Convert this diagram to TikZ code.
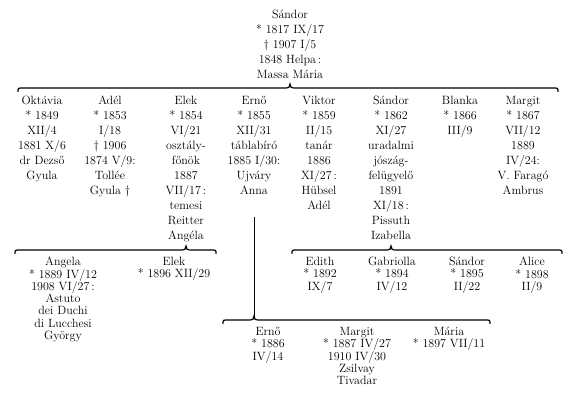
\documentclass[tikz,border=0pt]{standalone}
\usepackage{tikz}
\usetikzlibrary{calc}

\tikzset{
  person/.style={align=center, inner sep=0pt, anchor=north,
    font=\fontsize{12}{15}\selectfont, execute at begin node=\strut},
  kid/.style={person, font=\fontsize{12}{12.3}\selectfont},
  kin/.style={line width=1.2pt, line cap=round}
}

% brace from #2 to #3, tip under parent node #1
\newcommand{\kinbrace}[3]{%
  \coordinate (#1-tip) at (#1 |- #2);
  \draw[kin] ([yshift=-3.5pt]#2) .. controls (#2) .. ([xshift=5pt]#2)
    -- ([xshift=-5pt]#1-tip) .. controls ([xshift=-1pt]#1-tip) and ([yshift=1pt]#1-tip) .. ([yshift=4pt]#1-tip)
    .. controls ([yshift=1pt]#1-tip) and ([xshift=1pt]#1-tip) .. ([xshift=5pt]#1-tip)
    -- ([xshift=-5pt]#3) .. controls (#3) .. ([yshift=-3.5pt]#3);}

\begin{document}
\begin{tikzpicture}[x=1pt, y=-1pt]
  \useasboundingbox (0,0) rectangle (581,410);

  \node[person] (sandor) at (290,10) {Sándor\\* 1817 IX/17\\† 1907 I/5\\1848 Helpa\,:\\Massa Mária};

  \node[person] (oktavia) at (42,96) {Oktávia\\* 1849\\XII/4\\1881 X/6\\dr Dezső\\Gyula};
  \node[person] (adel) at (110,96) {Adél\\* 1853\\I/18\\† 1906\\1874 V/9:\\Tollée\\Gyula †};
  \node[person] (elek) at (186,96) {Elek\\* 1854\\VI/21\\osztály-\\főnök\\1887\\VII/17\,:\\temesi\\Reitter\\Angéla};
  \node[person] (erno) at (254,96) {Ernő\\* 1855\\XII/31\\táblabíró\\1885 I/30:\\Ujváry\\Anna};
  \node[person] (viktor) at (319,96) {Viktor\\* 1859\\II/15\\tanár\\1886\\XI/27\,:\\Hübsel\\Adél};
  \node[person] (sandorjr) at (391,96) {Sándor\\* 1862\\XI/27\\uradalmi\\jószág-\\felügyelő\\1891\\XI/18\,:\\Pissuth\\Izabella};
  \node[person] (blanka) at (460,96) {Blanka\\* 1866\\III/9};
  \node[person] (margit) at (523,96) {Margit\\* 1867\\VII/12\\1889\\IV/24:\\V. Faragó\\Ambrus};

  \node[kid] (angela) at (63,257) {Angela\\* 1889 IV/12\\1908 VI/27\,:\\Astuto\\dei Duchi\\di Lucchesi\\György};
  \node[kid] (elekjr) at (174,257) {Elek\\* 1896 XII/29};

  \node[kid] (edith) at (320,257) {Edith\\* 1892\\IX/7};
  \node[kid] (gabriolla) at (392,257) {Gabriolla\\* 1894\\IV/12};
  \node[kid] (sandorgc) at (467,257) {Sándor\\* 1895\\II/22};
  \node[kid] (alice) at (532,257) {Alice\\* 1898\\II/9};

  \node[kid] (ernojr) at (268,327) {Ernő\\* 1886\\IV/14};
  \node[kid] (margitjr) at (357,327) {Margit\\* 1887 IV/27\\1910 IV/30\\Zsilvay\\Tivadar};
  \node[kid] (maria) at (449,327) {Mária\\* 1897 VII/11};

  \coordinate (topl) at (18,88);
  \coordinate (topr) at (558,88);
  \coordinate (elekl) at (15,250);
  \coordinate (elekr) at (216,250);
  \coordinate (sandorl) at (292,250);
  \coordinate (sandorr) at (562,250);
  \coordinate (ernol) at (223,320);
  \coordinate (ernor) at (490,320);

  \kinbrace{sandor}{topl}{topr}
  \kinbrace{elek}{elekl}{elekr}
  \kinbrace{sandorjr}{sandorl}{sandorr}
  \kinbrace{erno}{ernol}{ernor}
  \draw[kin, line width=1pt] ([yshift=-18pt]erno.south) -- ([yshift=4pt]erno-tip);
\end{tikzpicture}
\end{document}
